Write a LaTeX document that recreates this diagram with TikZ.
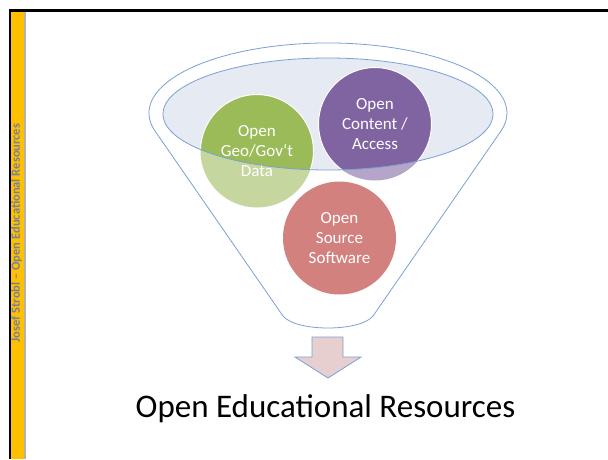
\documentclass[tikz,border=0pt]{standalone}
\usepackage{fontspec}
\setmainfont{Carlito}
\usepackage{tikz}
\definecolor{funnelblue}{HTML}{7BA0D4}
\definecolor{mouthfill}{HTML}{E6EAF2}
\definecolor{geogreen}{HTML}{9BBB59}
\definecolor{contentpurple}{HTML}{8064A2}
\definecolor{softwarered}{HTML}{C0504D}
\definecolor{arrowpink}{HTML}{E6CFCE}
\definecolor{barorange}{HTML}{FFC000}
\definecolor{bartext}{HTML}{78829A}

\begin{document}
\begin{tikzpicture}[x=1pt,y=-1pt,
		funnelline/.style={draw=funnelblue, line width=0.8pt},
		blobtext/.style={text=white, align=center, font=\fontsize{17}{20}\selectfont},
		mouth/.style={x radius=165, y radius=56}]
		\useasboundingbox (0,0) rectangle (608,459);
		\fill[white] (0,0) rectangle (608,459);
		\fill[black] (8.5,8.5) rectangle (608,11.5);
		\fill[black] (8.5,8.5) rectangle (11,459);
		\fill[barorange] (11,11.5) rectangle (24,459);
		\fill[gray!60] (24,11.5) rectangle (26,459);
		\node[rotate=90, text=bartext, font=\bfseries\fontsize{12.5}{15}\selectfont] (author) at (16.5,233) {Josef Strobl – Open Educational Resources};
		
		\coordinate (geoc) at (257,151);
		\coordinate (contc) at (375,124);
		\coordinate (softc) at (339.5,238);
		
		\draw[funnelline] (155.1,131.1) arc[start angle=165, end angle=375, x radius=179, y radius=70]
			-- (373,316) .. controls (360,332) and (296,332) .. (283,316) -- cycle;
		\fill[mouthfill] (328,114) ellipse[mouth];
		\fill[geogreen!58!white] (geoc) circle[radius=56.5];
		\fill[contentpurple!58!white] (contc) circle[radius=56.5];
		\fill[softwarered!72!white] (softc) circle[radius=56.5];
		\begin{scope}
			\clip (328,114) ellipse[mouth];
			\filldraw[fill=geogreen, draw=white, line width=1pt] (geoc) circle[radius=56.5];
			\filldraw[fill=contentpurple, draw=white, line width=1pt] (contc) circle[radius=56.5];
		\end{scope}
		\draw[funnelline] (328,114) ellipse[mouth];
		
		\node[blobtext] (geo) at (geoc) {Open\\Geo/Gov‘t\\Data};
		\node[blobtext] (content) at (contc) {Open\\Content /\\Access};
		\node[blobtext] (software) at (softc) {Open\\Source\\Software};
		
		\draw[funnelline, fill=arrowpink] (312,337) -- (343,337) -- (343,357) -- (361,357) -- (328,378) -- (295,357) -- (312,357) -- cycle;
		\node[anchor=base, font=\fontsize{33}{40}\selectfont] (oer) at (325.5,417) {Open Educational Resources};
	\end{tikzpicture}
\end{document}
